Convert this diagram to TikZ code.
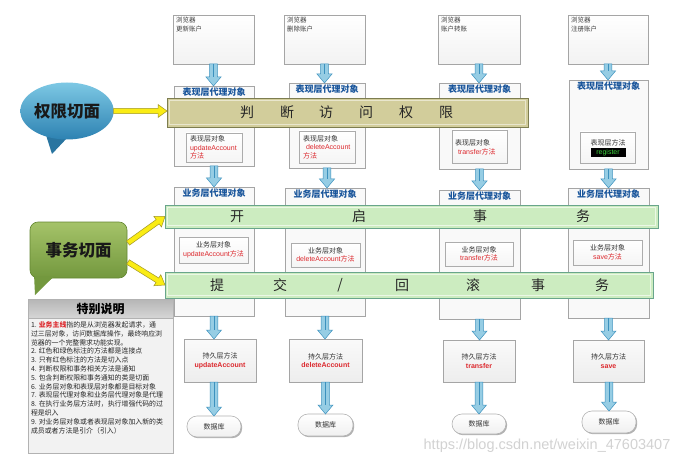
\documentclass[tikz,border=0pt]{standalone}
\usepackage{fontspec}
\setmainfont{Noto Sans CJK SC}
\newfontfamily\lat{Liberation Sans}
\usetikzlibrary{calc,shadows,shapes.geometric}
\definecolor{boxedge}{RGB}{165,165,165}
\definecolor{titleblue}{RGB}{25,85,155}
\definecolor{olivefill}{RGB}{210,205,155}
\definecolor{oliveedge}{RGB}{125,125,80}
\definecolor{greenfill}{RGB}{204,236,192}
\definecolor{greenedge}{RGB}{105,165,140}
\definecolor{arrfill}{RGB}{150,205,228}
\definecolor{arredge}{RGB}{60,145,190}
\definecolor{yfill}{RGB}{250,236,20}
\definecolor{yedge}{RGB}{160,150,40}
\definecolor{methred}{RGB}{220,40,45}
\definecolor{bluetop}{RGB}{125,200,228}
\definecolor{bluebot}{RGB}{45,130,178}
\definecolor{greentop}{RGB}{165,195,105}
\definecolor{greenbot}{RGB}{115,152,62}
\definecolor{greenline}{RGB}{100,135,50}
\definecolor{reggreen}{RGB}{60,210,60}
\newcommand\rbox[6]{\node[#2, minimum width=#5pt-#3pt, minimum height=#6pt-#4pt, anchor=north west] (#1) at (#3,#4) {};}
\newcommand\fatarrow[6]{%
  \coordinate (faA) at (#2);
  \coordinate (faB) at (#3);
  \coordinate (faH) at ($(faB)!#6!(faA)$);
  \path[#1] ($(faA)!#4!90:(faB)$) -- ($(faH)!#4!-90:(faA)$) -- ($(faH)!#5!-90:(faA)$) -- (faB) -- ($(faH)!#5!90:(faA)$) -- ($(faH)!#4!90:(faA)$) -- ($(faA)!#4!-90:(faB)$) -- cycle;}
\newcommand\bluearr[2]{\fatarrow{barrow}{#1}{#2}{3.8pt}{7.5pt}{9pt}\draw[arredge, line width=0.5pt] (faA) -- (faH);}
\newcommand\yelarr[2]{\fatarrow{yarrow}{#1}{#2}{2.6pt}{6.5pt}{9pt}}
\begin{document}
\begin{tikzpicture}[x=1pt,y=-1pt,
 every node/.style={inner sep=0pt,outer sep=0pt},
 shadowed/.style={drop shadow={shadow xshift=1.2pt,shadow yshift=-1.2pt,opacity=0.3,fill=black}},
 browser/.style={draw=boxedge,line width=0.6pt,top color=white,bottom color=gray!10,shadowed},
 tallbox/.style={draw=boxedge,line width=0.6pt,fill=gray!5,shadowed},
 innerbox/.style={draw=gray!65,line width=0.6pt,top color=white,bottom color=gray!8,shadowed},
 persist/.style={draw=boxedge,line width=0.6pt,top color=gray!4,bottom color=gray!14,shadowed},
 dbbox/.style={draw=gray!60,line width=0.6pt,rounded corners=10pt,top color=white,bottom color=gray!12,shadowed},
 oband/.style={draw=oliveedge,line width=0.8pt,fill=olivefill},
 gband/.style={draw=greenedge,line width=0.8pt,fill=greenfill},
 notebox/.style={draw=gray!60,line width=0.6pt,fill=gray!10,shadowed},
 notehead/.style={draw=gray!60,line width=0.6pt,top color=gray!58,bottom color=gray!32},
 smalltxt/.style={font=\fontsize{6.5}{8.5}\selectfont,text=black!75,align=left},
 labtxt/.style={font=\fontsize{7}{8.6}\selectfont,text=black!80,align=center},
 titletxt/.style={font=\bfseries\fontsize{9}{10}\selectfont,text=titleblue},
 bandtxt/.style={font=\fontsize{14}{16}\selectfont,text=black!85},
 bubtxt/.style={font=\bfseries\fontsize{16.5}{18}\selectfont,text=black!90},
 barrow/.style={draw=arredge,fill=arrfill,line width=0.5pt},
 yarrow/.style={draw=yedge,fill=yfill,line width=0.5pt},
]
\useasboundingbox[fill=white] (0,0) rectangle (693,465);

% ---- browser boxes
\rbox{b1}{browser}{173}{15}{254}{64}
\rbox{b2}{browser}{284}{15}{365}{64}
\rbox{b3}{browser}{438}{15}{520}{64}
\rbox{b4}{browser}{568}{15}{648}{64}
\node[smalltxt,anchor=north west] (bt1) at ($(b1.north west)+(3,2.5)$) {浏览器\\更新账户};
\node[smalltxt,anchor=north west] (bt2) at ($(b2.north west)+(3,2.5)$) {浏览器\\删除账户};
\node[smalltxt,anchor=north west] (bt3) at ($(b3.north west)+(3,2.5)$) {浏览器\\账户转账};
\node[smalltxt,anchor=north west] (bt4) at ($(b4.north west)+(3,2.5)$) {浏览器\\注册账户};

% ---- presentation proxy boxes
\rbox{p1}{tallbox}{174}{86}{254}{166}
\rbox{p2}{tallbox}{289}{83}{365}{168}
\rbox{p3}{tallbox}{439}{83}{520}{169}
\rbox{p4}{tallbox}{569}{80}{648}{169}
\foreach \i in {1,2,3,4} \node[titletxt] (pt\i) at ($(p\i.north)+(0,6)$) {表现层代理对象};
\rbox{pi1}{innerbox}{186}{133}{242}{162}
\rbox{pi2}{innerbox}{299}{131}{355}{163}
\rbox{pi3}{innerbox}{452}{130}{507}{163}
\rbox{pi4}{innerbox}{580}{132}{635}{163}
\node[labtxt,align=left,anchor=west] (pit1) at ($(pi1.west)+(4,0)$) {表现层对象\\{\color{methred}\lat updateAccount}\\{\color{methred}方法}};
\node[labtxt,align=left,anchor=west] (pit2) at ($(pi2.west)+(4,0)$) {表现层对象\\\hspace{3pt}{\color{methred}\lat deleteAccount}\\{\color{methred}方法}};
\node[labtxt,align=left,anchor=west] (pit3) at ($(pi3.west)+(3,1)$) {表现层对象\\\hspace{3pt}{\color{methred}{\lat transfer}方法}};
\node[labtxt] (pit4) at (608,143) {表现层方法};
\node[fill=black,minimum width=35pt,minimum height=8.5pt,text=reggreen,font=\lat\fontsize{7}{8}\selectfont] (reg4) at (608,152.5) {register};

% ---- business proxy boxes
\rbox{q1}{tallbox}{174}{187}{254}{316}
\rbox{q2}{tallbox}{285}{188}{365}{316}
\rbox{q3}{tallbox}{439}{190}{520}{319}
\rbox{q4}{tallbox}{568}{188}{649}{318}
\foreach \i in {1,2,3,4} \node[titletxt] (qt\i) at ($(q\i.north)+(0,6)$) {业务层代理对象};
\rbox{qi1}{innerbox}{179}{237}{248}{263}
\rbox{qi2}{innerbox}{291}{243}{360}{267}
\rbox{qi3}{innerbox}{445}{242}{513}{266}
\rbox{qi4}{innerbox}{573}{240}{642}{265}
\node[labtxt] (qit1) at (qi1.center) {业务层对象\\{\color{methred}{\lat updateAccount}方法}};
\node[labtxt] (qit2) at (qi2.center) {业务层对象\\{\color{methred}{\lat deleteAccount}方法}};
\node[labtxt] (qit3) at (qi3.center) {业务层对象\\{\color{methred}{\lat transfer}方法}};
\node[labtxt] (qit4) at (qi4.center) {业务层对象\\{\color{methred}{\lat save}方法}};

% ---- persistence boxes
\rbox{pe1}{persist}{184}{339}{256}{382}
\rbox{pe2}{persist}{289}{339}{362}{382}
\rbox{pe3}{persist}{443}{340}{515}{382}
\rbox{pe4}{persist}{573}{340}{644}{382}
\node[labtxt] (pet1) at (pe1.center) {持久层方法\\{\color{methred}\lat\bfseries updateAccount}};
\node[labtxt] (pet2) at (pe2.center) {持久层方法\\{\color{methred}\lat\bfseries deleteAccount}};
\node[labtxt] (pet3) at (pe3.center) {持久层方法\\{\color{methred}\lat\bfseries transfer}};
\node[labtxt] (pet4) at (pe4.center) {持久层方法\\{\color{methred}\lat\bfseries save}};

% ---- databases
\rbox{db1}{dbbox}{187}{416}{241}{437}
\rbox{db2}{dbbox}{298}{414}{353}{436}
\rbox{db3}{dbbox}{452}{414}{506}{434}
\rbox{db4}{dbbox}{582}{411}{636}{433}
\foreach \i in {1,2,3,4} \node[labtxt] (dbt\i) at (db\i.center) {数据库};

% ---- blue arrows
\foreach \i in {1,2,3,4}{
  \bluearr{b\i.south}{p\i.north -| b\i.south}
  \bluearr{p\i.south}{q\i.north -| p\i.south}
  \bluearr{q\i.south}{pe\i.north -| q\i.south}
  \bluearr{pe\i.south -| db\i.north}{db\i.north}
}

% ---- bands
\rbox{band1}{oband}{167}{98}{528}{127}
\draw[olivefill!50!white,line width=0.6pt] ($(band1.north west)+(2.5,2.5)$) rectangle ($(band1.south east)+(-2.5,-2.5)$);
\rbox{band2}{gband}{165}{205}{658}{228}
\draw[greenfill!40!white,line width=0.6pt] ($(band2.north west)+(2.5,2.5)$) rectangle ($(band2.south east)+(-2.5,-2.5)$);
\rbox{band3}{gband}{165}{272}{653}{298}
\draw[greenfill!40!white,line width=0.6pt] ($(band3.north west)+(2.5,2.5)$) rectangle ($(band3.south east)+(-2.5,-2.5)$);
\foreach \c/\x [count=\i] in {判/247,断/287,访/326,问/366,权/406,限/446}
  \node[bandtxt] (bta\i) at (\x,112.5) {\c};
\foreach \c/\x [count=\i] in {开/237,启/359,事/480,务/583}
  \node[bandtxt] (btb\i) at (\x,216.5) {\c};
\foreach \c/\x [count=\i] in {提/217,交/280,{/}/340,回/402,滚/473,事/538,务/602}
  \node[bandtxt] (btc\i) at (\x,285) {\c};

% ---- aspect bubbles
\fill[bluebot!90!black] (45,132) -- (68,137) -- (52,154) -- cycle;
\node[ellipse,minimum width=85pt,minimum height=57pt,top color=bluetop,bottom color=bluebot,bubtxt] (bub1) at (67,111) {权限切面};
\fill[greenbot] (34,274) -- (56,274) -- (35,295) -- cycle;
\node[draw=greenline,line width=0.6pt,rounded corners=8pt,minimum width=97pt,minimum height=56pt,top color=greentop,bottom color=greenbot,bubtxt] (bub2) at (78.5,250) {事务切面};
\fill[greenbot] (35,276) -- (55,276) -- (36,291) -- cycle;
\coordinate (y2s) at (128,243);
\coordinate (y3s) at (128,262);
\yelarr{bub1.east}{bub1.east -| band1.west}
\yelarr{y2s}{band2.west}
\yelarr{y3s}{band3.west}

% ---- notes
\rbox{notes}{notebox}{28}{299}{173}{453}
\rbox{noteshead}{notehead}{28}{299}{173}{318}
\node[font=\bfseries\fontsize{12}{14}\selectfont] (notestitle) at (noteshead.center) {特别说明};
\node[anchor=north west,font=\fontsize{6.9}{8.8}\selectfont,align=left,text=black!85] (notestext) at (31,321.5) {%
1. {\color{methred}\bfseries 业务主线}指的是从浏览器发起请求，通\\
过三层对象，访问数据库操作，最终响应浏\\
览器的一个完整需求功能实现。\\
2. 红色和绿色标注的方法都是连接点\\
3. 只有红色标注的方法是切入点\\
4. 判断权限和事务相关方法是通知\\
5. 包含判断权限和事务通知的类是切面\\
6. 业务层对象和表现层对象都是目标对象\\
7. 表现层代理对象和业务层代理对象是代理\\
8. 在执行业务层方法时，执行增强代码的过\\
程是织入\\
9. 对业务层对象或者表现层对象加入新的类\\
成员或者方法是引介（引入）};

% ---- watermark
\node[font=\lat\fontsize{14.5}{16}\selectfont,text=gray!35] (wm) at (547,446) {https://blog.csdn.net/weixin\_47603407};
\end{tikzpicture}
\end{document}
